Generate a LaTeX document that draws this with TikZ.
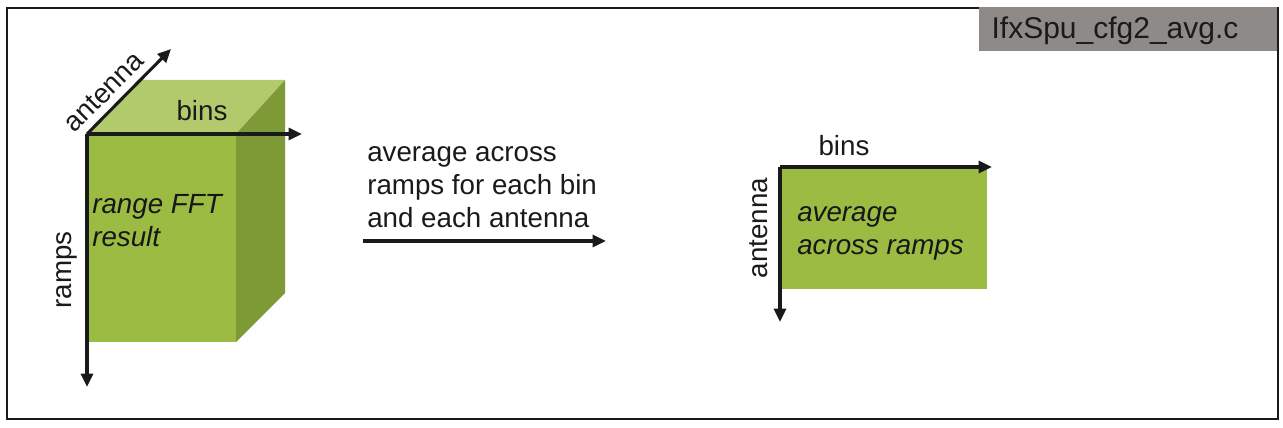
\documentclass[tikz,border=0pt]{standalone}
\usepackage{fontspec}
\setmainfont{Liberation Sans}
\usetikzlibrary{arrows.meta}
\definecolor{gfront}{HTML}{9BBB43}
\definecolor{gtop}{HTML}{B2CA6C}
\definecolor{gside}{HTML}{7E9A37}
\definecolor{tagfill}{HTML}{8E8A87}
\definecolor{ink}{HTML}{1A1A1A}
\tikzset{
  axis/.style={draw=ink, line width=2.3pt, -{Triangle[length=10pt,width=9pt]}},
  lbl/.style={font=\fontsize{20.8}{24.75}\selectfont, text=ink, inner sep=0pt},
  ital/.style={font=\fontsize{20.8}{24.75}\selectfont\itshape, text=ink!90!black, inner sep=0pt, align=left},
}
\begin{document}
\begin{tikzpicture}[x=0.75pt,y=-0.75pt]
\useasboundingbox (0,0) rectangle (1283,428);
% frame
\node[draw=ink, line width=1.2pt, minimum width=1271*0.75pt, minimum height=411*0.75pt, anchor=north west, inner sep=0pt] (frame) at (6,7) {};
% tag
\node[fill=tagfill, anchor=north east, minimum width=298*0.75pt, minimum height=44*0.75pt, inner sep=0pt] (tag) at (1277,7) {};
\node[font=\fontsize{22.5}{26}\selectfont, text=ink, inner sep=0pt] (tagtext) at (1115,31) {IfxSpu\_cfg2\_avg.c};
% cube
\coordinate (o) at (87,134);
\fill[gtop] (87,134) -- (138,80) -- (285,80) -- (236,134) -- cycle;
\fill[gside] (236,134) -- (285,80) -- (285,293) -- (236,342) -- cycle;
\fill[gfront] (87,134) rectangle (236,342);
\coordinate (antip) at (171,49);
\coordinate (binstip) at (302,134);
\coordinate (rampstip) at (87,387);
\draw[axis] (o) -- (antip);
\draw[axis] (o) -- (binstip);
\draw[axis] (o) -- (rampstip);
\node[lbl] (binsA) at (202,111) {bins};
\node[lbl, rotate=45] (antA) at (104,92) {antenna};
\node[lbl, rotate=90] (rampsA) at (67,270) {ramps};
\node[ital, anchor=north west] (fft) at (92,194) {range FFT\\result};
% middle
\node[lbl, align=left, anchor=north west] (desc) at (367,146) {average across\\ramps for each bin\\and each antenna};
\coordinate (m1) at (363,241);
\coordinate (m2) at (606,241);
\draw[axis] (m1) -- (m2);
% right
\fill[gfront] (780,167) rectangle (987,289);
\coordinate (o2) at (780,167);
\coordinate (b2) at (992,167);
\coordinate (a2) at (780,322);
\draw[axis] (o2) -- (b2);
\draw[axis] (o2) -- (a2);
\node[lbl] (binsB) at (844,146) {bins};
\node[lbl, rotate=90] (antB) at (759,228) {antenna};
\node[ital, anchor=north west] (avg) at (797,206) {average\\across ramps};
\end{tikzpicture}
\end{document}
